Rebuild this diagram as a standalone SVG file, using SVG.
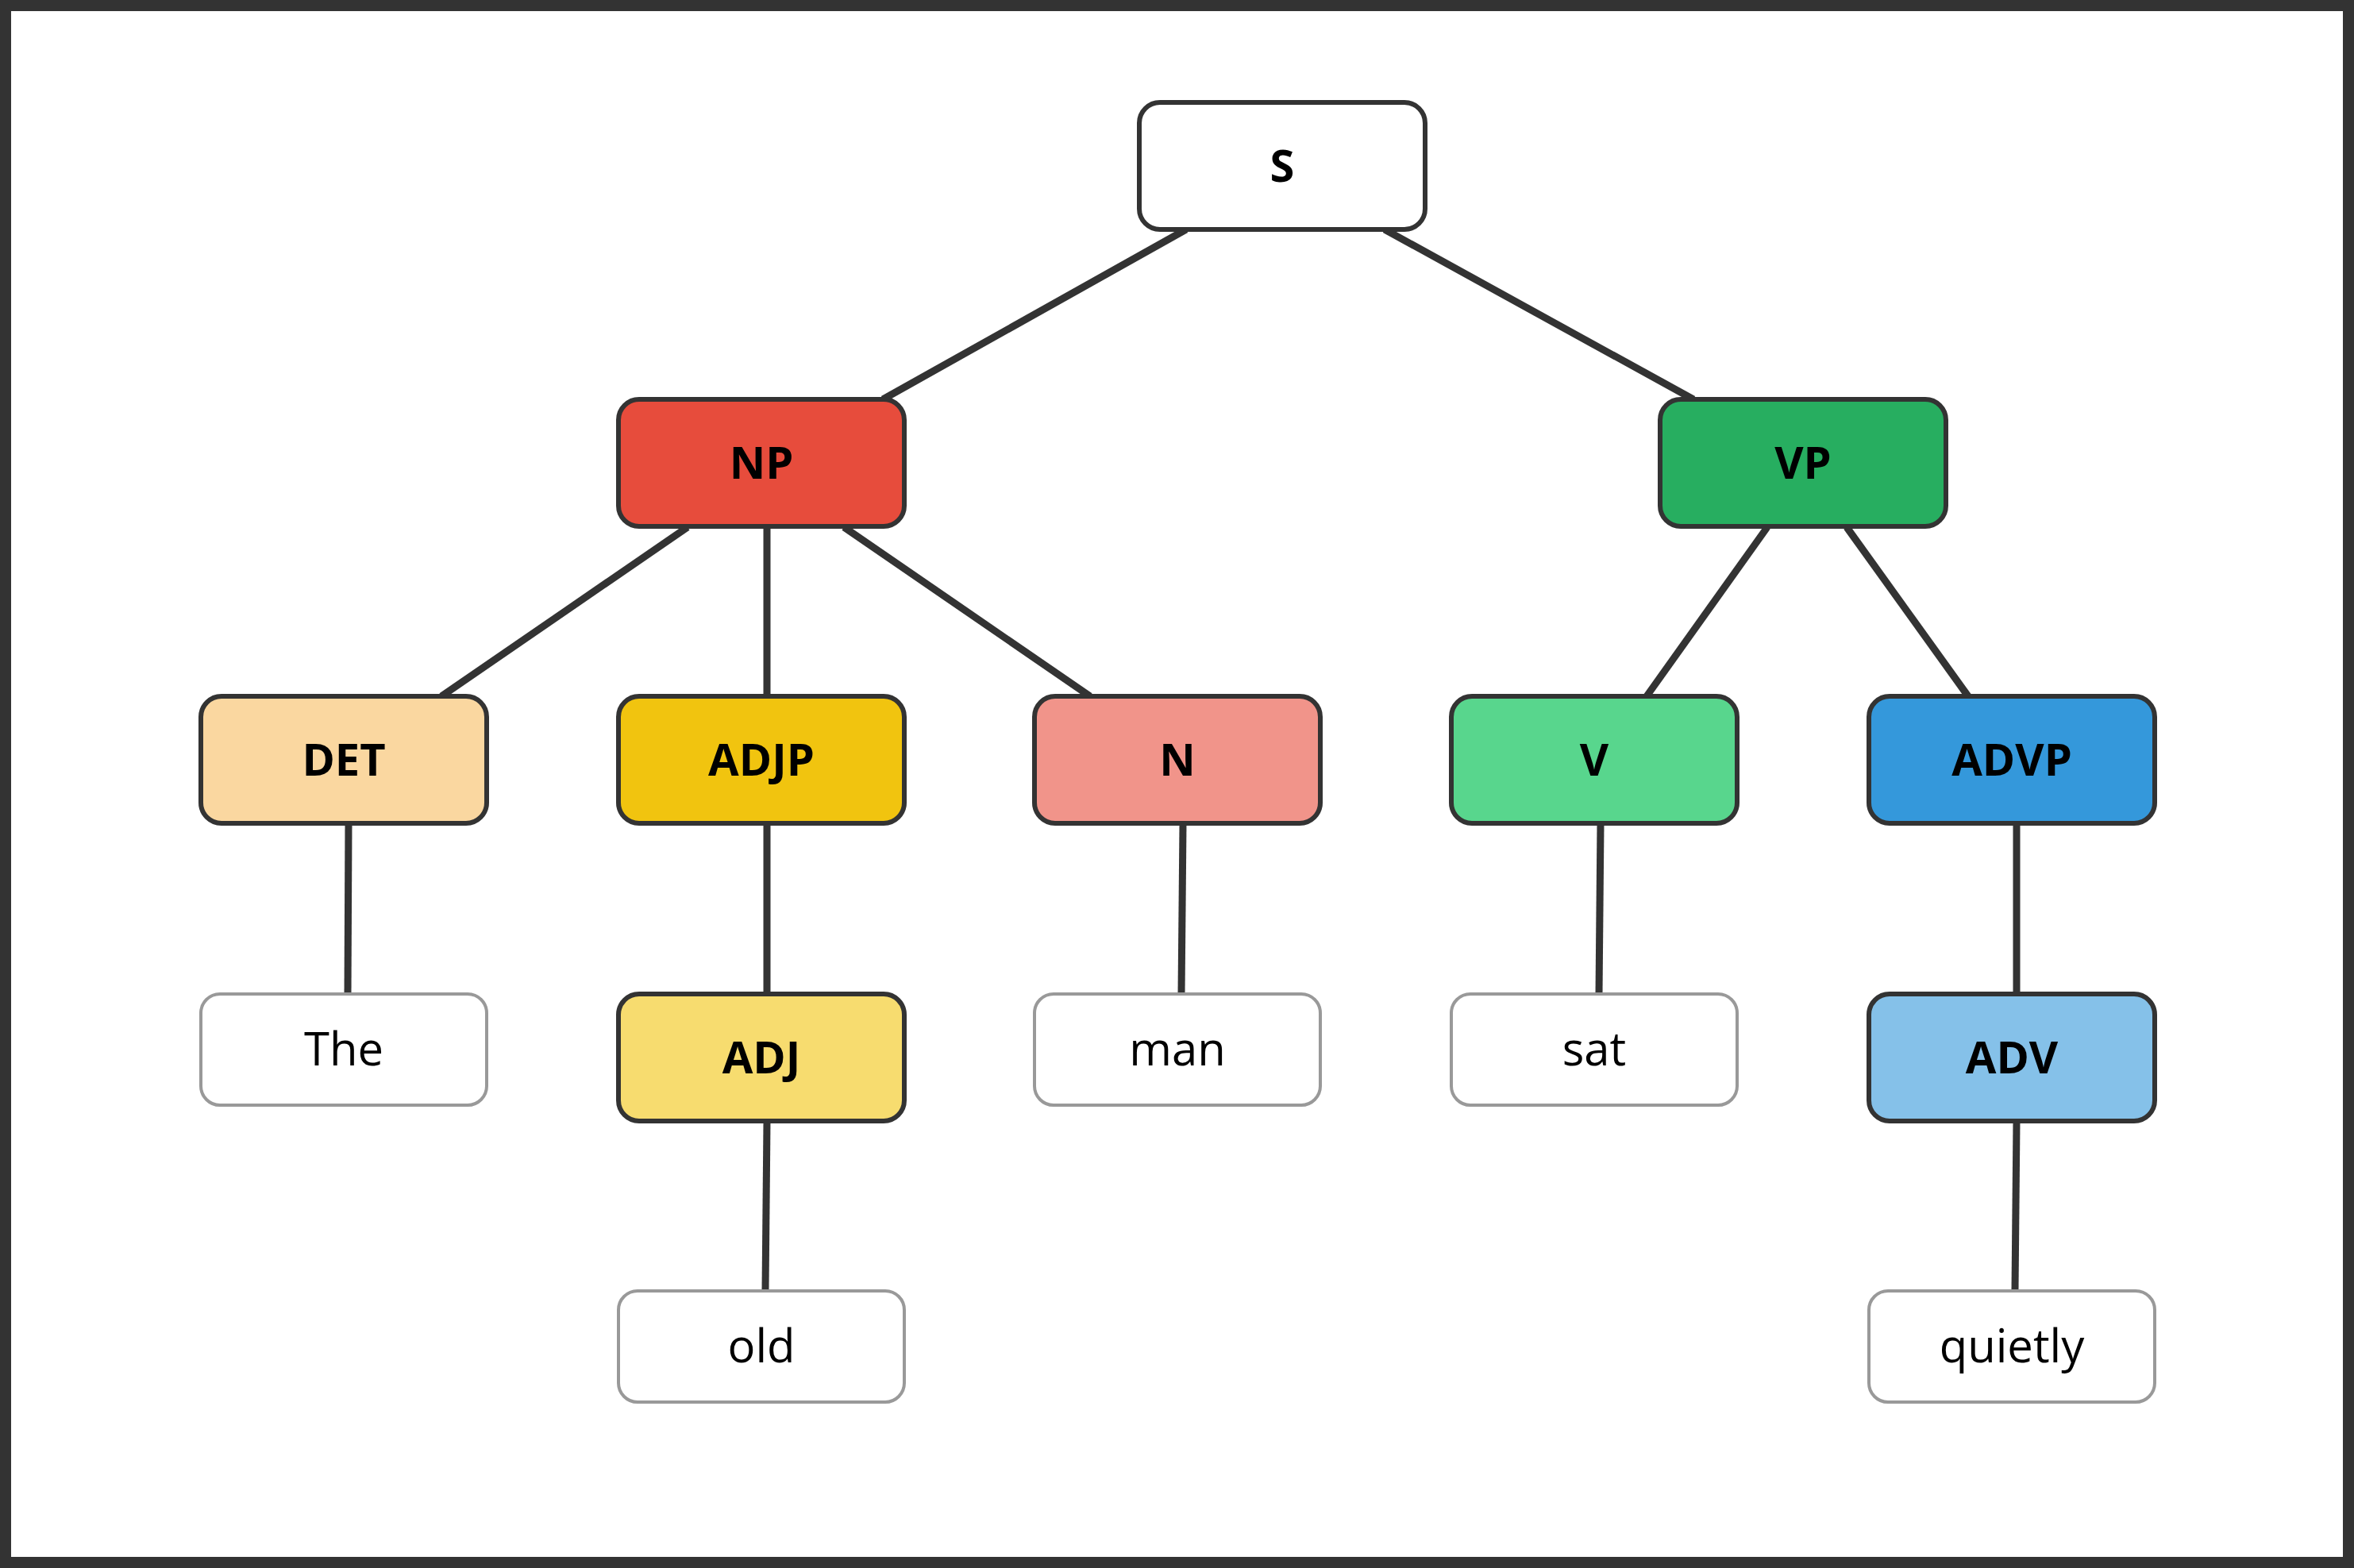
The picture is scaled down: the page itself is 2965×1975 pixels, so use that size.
<svg xmlns="http://www.w3.org/2000/svg" width="2965" height="1975" viewBox="0 0 2965 1975">
<style>
.n{stroke:#333;stroke-width:6}
.l{fill:#fff;stroke:#999;stroke-width:4}
.t{font-family:"Open Sans","Noto Sans",sans-serif;font-size:56px;font-weight:bold;text-anchor:middle;fill:#000}
.w{font-family:"Open Sans","Noto Sans",sans-serif;font-size:58px;text-anchor:middle;fill:#000}
#edges line{stroke:#333;stroke-width:9}
</style>
<rect x="0" y="0" width="2965" height="1975" fill="#fff"/>
<rect x="7" y="7" width="2951" height="1961" fill="none" stroke="#333" stroke-width="14"/>
<g id="edges">
<line x1="1494" y1="289" x2="1112" y2="503"/>
<line x1="1744" y1="289" x2="2133" y2="503"/>
<line x1="866" y1="664" x2="556" y2="877"/>
<line x1="966" y1="664" x2="966" y2="877"/>
<line x1="1063" y1="664" x2="1373" y2="877"/>
<line x1="2226" y1="664" x2="2074" y2="877"/>
<line x1="2326" y1="664" x2="2479" y2="877"/>
<line x1="439" y1="1038" x2="438" y2="1252"/>
<line x1="966" y1="1038" x2="966" y2="1252"/>
<line x1="1490" y1="1038" x2="1488" y2="1252"/>
<line x1="2016" y1="1038" x2="2014" y2="1252"/>
<line x1="2540" y1="1038" x2="2540" y2="1252"/>
<line x1="966" y1="1413" x2="964" y2="1626"/>
<line x1="2540" y1="1413" x2="2538" y2="1626"/>
</g>
<g id="S"><rect class="n" x="1435" y="129" width="360" height="160" rx="26" fill="#fff"/><text class="t" x="1615" y="229">S</text></g>
<g id="NP"><rect class="n" x="779" y="503" width="360" height="160" rx="26" fill="#e74c3c"/><text class="t" x="959" y="603">NP</text></g>
<g id="VP"><rect class="n" x="2091" y="503" width="360" height="160" rx="26" fill="#27ae60"/><text class="t" x="2271" y="603">VP</text></g>
<g id="DET"><rect class="n" x="253" y="877" width="360" height="160" rx="26" fill="#fad7a0"/><text class="t" x="433" y="977">DET</text></g>
<g id="ADJP"><rect class="n" x="779" y="877" width="360" height="160" rx="26" fill="#f1c40f"/><text class="t" x="959" y="977">ADJP</text></g>
<g id="N"><rect class="n" x="1303" y="877" width="360" height="160" rx="26" fill="#f1948a"/><text class="t" x="1483" y="977">N</text></g>
<g id="V"><rect class="n" x="1828" y="877" width="360" height="160" rx="26" fill="#58d68d"/><text class="t" x="2008" y="977">V</text></g>
<g id="ADVP"><rect class="n" x="2354" y="877" width="360" height="160" rx="26" fill="#3498db"/><text class="t" x="2534" y="977">ADVP</text></g>
<g id="The"><rect class="l" x="253" y="1252" width="360" height="140" rx="24"/><text class="w" x="433" y="1342">The</text></g>
<g id="ADJ"><rect class="n" x="779" y="1252" width="360" height="160" rx="26" fill="#f7dc6f"/><text class="t" x="959" y="1352">ADJ</text></g>
<g id="man"><rect class="l" x="1303" y="1252" width="360" height="140" rx="24"/><text class="w" x="1483" y="1342">man</text></g>
<g id="sat"><rect class="l" x="1828" y="1252" width="360" height="140" rx="24"/><text class="w" x="2008" y="1342">sat</text></g>
<g id="ADV"><rect class="n" x="2354" y="1252" width="360" height="160" rx="26" fill="#85c1e9"/><text class="t" x="2534" y="1352">ADV</text></g>
<g id="old"><rect class="l" x="779" y="1626" width="360" height="140" rx="24"/><text class="w" x="959" y="1716">old</text></g>
<g id="quietly"><rect class="l" x="2354" y="1626" width="360" height="140" rx="24"/><text class="w" x="2534" y="1716">quietly</text></g>
</svg>
